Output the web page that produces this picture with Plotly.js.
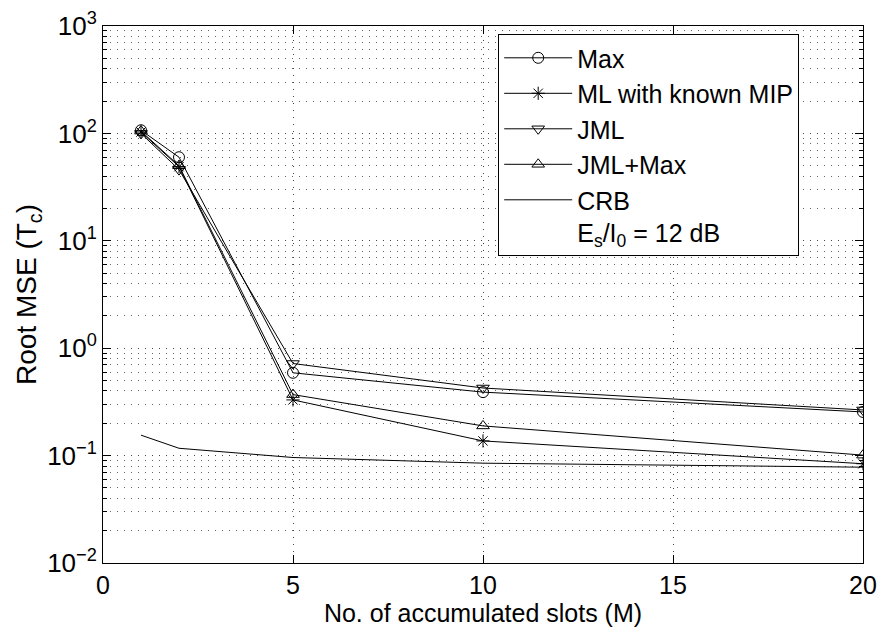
<!DOCTYPE html>
<html>
<head>
<meta charset="utf-8">
<script src="https://cdn.plot.ly/plotly-3.0.1.min.js"></script>
<style>html,body{margin:0;padding:0;background:#fff}#chart{width:882px;height:635px}</style>
</head>
<body>
<div id="chart"></div>
<script>
var slots = [1, 2, 5, 10, 20];
var maxVals = [107, 60, 0.59, 0.39, 0.255];
var mlVals = [103, 49, 0.33, 0.137, 0.084];
var jmlVals = [100, 46, 0.72, 0.426, 0.266];
var jmlMaxVals = [105, 50, 0.37, 0.189, 0.101];
var crbVals = [0.155, 0.117, 0.096, 0.085, 0.078];

var names = ["Max", "ML with known MIP", "JML", "JML+Max", "CRB<br>E<sub>s</sub>/I<sub>0</sub> = 12 dB"];
var decadeVals = [0.01, 0.1, 1, 10, 100, 1000];
var decadeText = ["10<sup>\u22122</sup>", "10<sup>\u22121</sup>", "10<sup>0</sup>", "10<sup>1</sup>", "10<sup>2</sup>", "10<sup>3</sup>"];
var xTicks = [0, 5, 10, 15, 20];

var minorVals = [];
for (var d = -2; d < 3; d++) {
  for (var m = 2; m <= 9; m++) minorVals.push(m * Math.pow(10, d));
}

function tr(y, name, sym) {
  var t = {x: slots, y: y, name: name, type: 'scatter',
    mode: sym ? 'lines+markers' : 'lines',
    line: {color: '#000', width: 1}};
  if (sym) t.marker = {symbol: sym, size: 11, color: '#000', line: {color: '#000', width: 1}};
  return t;
}

var data = [
  tr(maxVals, names[0], 'circle-open'),
  tr(mlVals, names[1], 'asterisk-open'),
  tr(jmlVals, names[2], 'triangle-down-open'),
  tr(jmlMaxVals, names[3], 'triangle-up-open'),
  tr(crbVals, names[4], null)
];

var fontFam = 'Liberation Sans, Arial, Helvetica, sans-serif';
var layout = {
  width: 882, height: 635,
  margin: {l: 103, r: 19, t: 26, b: 72, pad: 0},
  paper_bgcolor: '#fff', plot_bgcolor: '#fff',
  font: {family: fontFam, size: 24, color: '#000'},
  showlegend: true,
  legend: {x: 0.52, y: 0.985, xanchor: 'left', yanchor: 'top',
    bgcolor: '#fff', bordercolor: '#000', borderwidth: 1,
    font: {family: fontFam, size: 25, color: '#000'}, valign: 'top',
    tracegroupgap: 0, itemwidth: 68},
  xaxis: {
    range: [0, 20], tickvals: xTicks, ticktext: xTicks.map(String),
    ticks: 'inside', ticklen: 8, tickcolor: '#000', mirror: 'allticks',
    showline: true, linecolor: '#000', linewidth: 1,
    showgrid: true, gridcolor: '#444', griddash: '1px,6px', gridwidth: 1,
    zeroline: false,
    tickfont: {family: fontFam, size: 25, color: '#000'},
    title: {text: 'No. of accumulated slots (M)', font: {family: fontFam, size: 25, color: '#000'}, standoff: 2}
  },
  yaxis: {
    type: 'log', range: [-2, 3], tickvals: decadeVals, ticktext: decadeText,
    ticks: 'inside', ticklen: 8, tickcolor: '#000', mirror: 'allticks',
    showline: true, linecolor: '#000', linewidth: 1,
    showgrid: true, gridcolor: '#444', griddash: '1px,6px', gridwidth: 1,
    zeroline: false,
    tickfont: {family: fontFam, size: 26, color: '#000'},
    minor: {tickmode: 'array', tickvals: minorVals, ticks: 'inside', ticklen: 4, tickcolor: '#000',
      showgrid: true, gridcolor: '#666', griddash: '1px,6px', gridwidth: 1},
    title: {text: 'Root MSE (T<sub>c</sub>)', font: {family: fontFam, size: 28, color: '#000'}, standoff: 2}
  }
};

Plotly.newPlot('chart', data, layout, {displayModeBar: false, staticPlot: true});
</script>
</body>
</html>
